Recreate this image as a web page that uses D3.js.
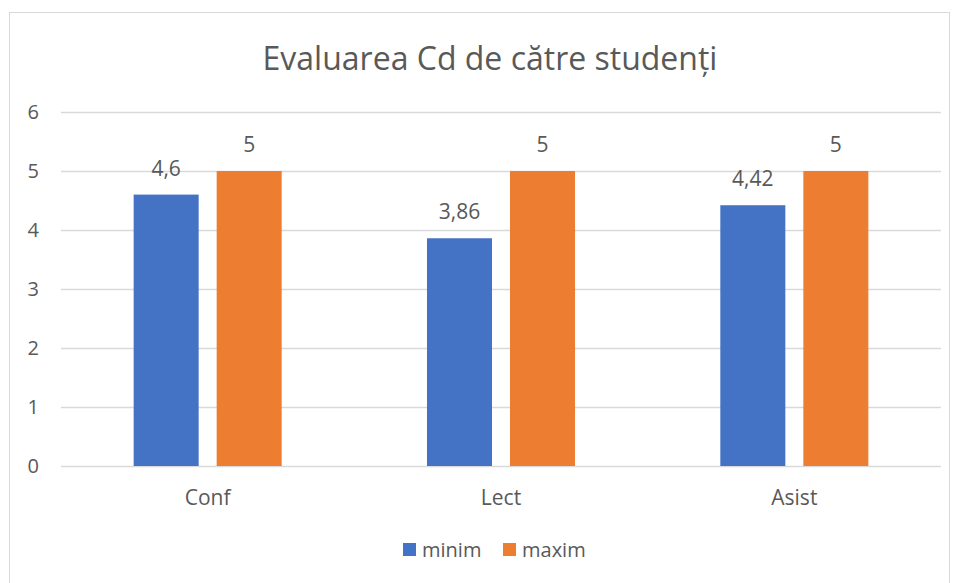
<!DOCTYPE html>
<html><head><meta charset="utf-8">
<script src="https://cdn.jsdelivr.net/npm/d3@7"></script>
<style>body{margin:0;background:#fff;} text{font-family:"Open Sans","Noto Sans",sans-serif;fill:#595959;}</style>
</head><body><svg id="c" width="957" height="583"></svg>
<script>
const categories = ["Conf","Lect","Asist"];
const seriesNames = ["minim","maxim"];
const minimValues = [4.6,3.86,4.42];
const maximValues = [5,5,5];
const yTicks = [0,1,2,3,4,5,6];
const colors = ["#4472C4","#ED7D31"];

const svg = d3.select("#c");
svg.append("rect").attr("x",9.5).attr("y",12.5).attr("width",940).attr("height",580).attr("fill","#fff").attr("stroke","#d9d9d9");

const pLeft=61, pRight=941, pTop=112, pBottom=466;
const x = d3.scaleBand().domain(categories).range([pLeft,pRight]).paddingInner(0).paddingOuter(0);
const y = d3.scaleLinear().domain([0,6]).range([pBottom,pTop]);
const xs = d3.scaleBand().domain(seriesNames).range([0,x.bandwidth()]).paddingInner(0.217).paddingOuter(0.875);

svg.append("text").attr("x",490).attr("y",70).attr("text-anchor","middle").attr("font-size",32).text("Evaluarea Cd de către studenți");

const yAxis = svg.append("g").attr("transform",`translate(${pLeft},0)`)
  .call(d3.axisLeft(y).tickValues(yTicks).tickSize(-(pRight-pLeft)).tickFormat(d3.format("d")));
yAxis.select(".domain").remove();
yAxis.selectAll(".tick line").attr("stroke","#d9d9d9").attr("stroke-width",1.3);
yAxis.selectAll(".tick text").attr("x",-22).attr("font-size",20).attr("fill","#595959").attr("font-family","Open Sans");

const xAxis = svg.append("g").attr("transform",`translate(0,${pBottom})`)
  .call(d3.axisBottom(x).tickSize(0));
xAxis.select(".domain").remove();
xAxis.selectAll(".tick text").attr("dy",0).attr("y",39).attr("font-size",21).attr("fill","#595959").attr("font-family","Open Sans");

const data = categories.map((c,i)=>({c, vals:[minimValues[i],maximValues[i]]}));
const fmt = v => String(v).replace(".",",");
const g = svg.selectAll("g.cat").data(data).join("g").attr("class","cat").attr("transform",d=>`translate(${x(d.c)},0)`);
g.selectAll("rect").data(d=>d.vals.map((v,j)=>({s:seriesNames[j],v,j}))).join("rect")
  .attr("x",d=>xs(d.s)).attr("width",xs.bandwidth())
  .attr("y",d=>y(d.v)).attr("height",d=>y(0)-y(d.v)).attr("fill",d=>colors[d.j]);
g.selectAll("text.lbl").data(d=>d.vals.map((v,j)=>({s:seriesNames[j],v,j}))).join("text").attr("class","lbl")
  .attr("x",d=>xs(d.s)+xs.bandwidth()/2).attr("y",d=>y(d.v)-19).attr("text-anchor","middle").attr("font-size",21).text(d=>fmt(d.v));

const leg = svg.append("g");
const legX=[403,503];
seriesNames.forEach((s,i)=>{
  leg.append("rect").attr("x",legX[i]).attr("y",543).attr("width",13).attr("height",13).attr("fill",colors[i]);
  leg.append("text").attr("x",legX[i]+19).attr("y",557).attr("font-size",20).text(s);
});
</script></body></html>
